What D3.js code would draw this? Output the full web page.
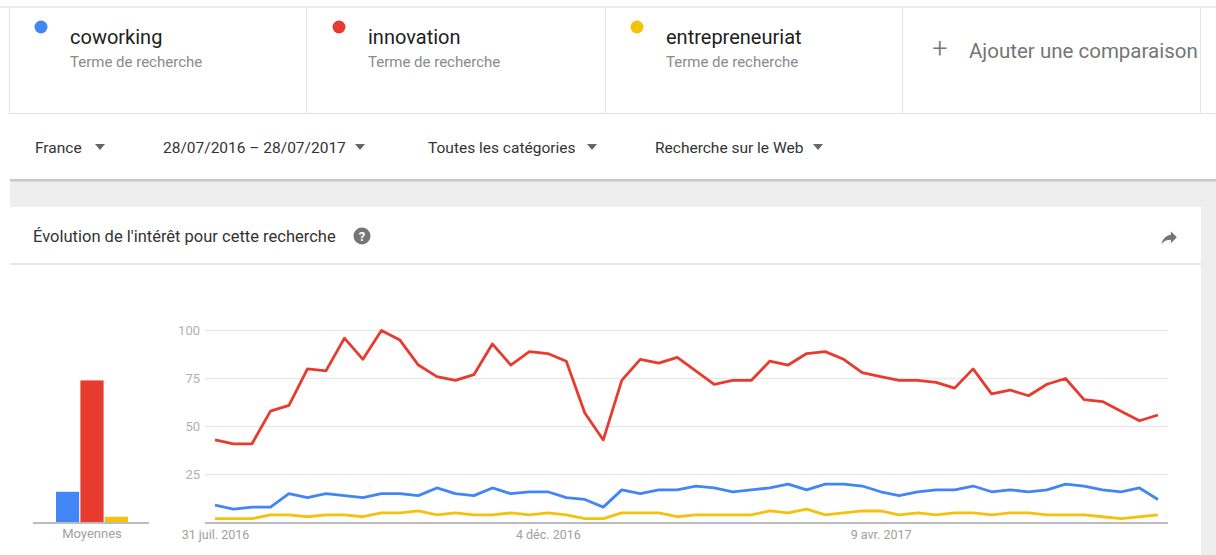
<!DOCTYPE html>
<html lang="fr">
<head>
<meta charset="utf-8">
<title>Évolution de l'intérêt pour cette recherche</title>
<script src="https://d3js.org/d3.v7.min.js"></script>
<style>
  body { margin: 0; background: #fff; font-family: Roboto, "Noto Sans", sans-serif; }
  svg { display: block; }
</style>
</head>
<body>
<div id="chart"></div>
<script>
// search terms and their colours
var terms = ["coworking", "innovation", "entrepreneuriat"];
var colors = ["#4285f4", "#e63b2e", "#f4c20d"];
var subtitle = "Terme de recherche";

var filters = ["France", "28/07/2016 \u2013 28/07/2017", "Toutes les catégories", "Recherche sur le Web"];

// weekly values, first week starts 31 juil. 2016
var coworking = [9,7,8,8,15,13,15,14,13,15,15,14,18,15,14,18,15,16,16,13,12,8,17,15,17,17,
                 19,18,16,17,18,20,17,20,20,19,16,14,16,17,17,19,16,17,16,17,20,19,17,16,18,12];
var innovation = [43,41,41,58,61,80,79,96,85,100,95,82,76,74,77,93,82,89,88,84,57,43,74,85,83,86,
                  79,72,74,74,84,82,88,89,85,78,76,74,74,73,70,80,67,69,66,72,75,64,63,58,53,56];
var entrepreneuriat = [2,2,2,4,4,3,4,4,3,5,5,6,4,5,4,4,5,4,5,4,2,2,5,5,5,3,
                       4,4,4,4,6,5,7,4,5,6,6,4,5,4,5,5,4,5,5,4,4,4,3,2,3,4];
var averages = [16, 74, 3];

var yTicks = [25, 50, 75, 100];
var xTickDates = ["2016-07-31", "2016-12-04", "2017-04-09"];
var xTickLabels = ["31 juil. 2016", "4 déc. 2016", "9 avr. 2017"];

var W = 1216, H = 555;
var svg = d3.select("#chart").append("svg").attr("width", W).attr("height", H);

// ---- page background bits
svg.append("rect").attr("x", 10).attr("y", 181).attr("width", W - 10).attr("height", 27).attr("fill", "#eeeeee");
svg.append("rect").attr("x", 1201).attr("y", 181).attr("width", 15).attr("height", H - 181).attr("fill", "#eeeeee");

// ---- term cards
svg.append("rect").attr("x", 9.5).attr("y", 7.5).attr("width", W).attr("height", 106)
   .attr("fill", "#fff").attr("stroke", "#e3e3e3");
svg.append("line").attr("x1", 0).attr("x2", W).attr("y1", 7).attr("y2", 7).attr("stroke", "#ececec").attr("stroke-width", 2);
var dividers = [306, 605, 902, 1200];
dividers.forEach(function(x) {
  svg.append("line").attr("x1", x + 0.5).attr("x2", x + 0.5).attr("y1", 8).attr("y2", 113).attr("stroke", "#e3e3e3");
});

var cardX = [10, 308, 606];
var cards = svg.selectAll(".card").data(terms).enter().append("g")
  .attr("class", "card")
  .attr("transform", function(d, i) { return "translate(" + cardX[i] + ",0)"; });
cards.append("circle").attr("cx", 31).attr("cy", 27).attr("r", 6.5)
  .attr("fill", function(d, i) { return colors[i]; });
cards.append("text").attr("x", 60).attr("y", 44).text(function(d) { return d; })
  .attr("font-size", "20px").attr("fill", "#212121");
cards.append("text").attr("x", 60).attr("y", 67).text(subtitle)
  .attr("font-size", "15px").attr("fill", "#8a8a8a");

svg.append("text").attr("x", 940).attr("y", 58).attr("text-anchor", "middle").text("+")
  .attr("font-size", "27px").attr("font-weight", 300).attr("fill", "#757575");
svg.append("text").attr("x", 969).attr("y", 58).text("Ajouter une comparaison")
  .attr("font-size", "20.5px").attr("fill", "#757575");

// ---- filter bar
svg.append("rect").attr("x", 10).attr("y", 179).attr("width", W - 10).attr("height", 2.5).attr("fill", "#c8c8c8");
var filterX = [35, 163, 428, 655];
var arrowX = [100, 360, 592, 818];
filters.forEach(function(f, i) {
  svg.append("text").attr("x", filterX[i]).attr("y", 153).text(f)
    .attr("font-size", "15.5px").attr("fill", "#333");
  svg.append("path")
    .attr("d", "M" + (arrowX[i] - 5) + ",144 L" + (arrowX[i] + 5) + ",144 L" + arrowX[i] + ",150 Z")
    .attr("fill", "#666");
});

// ---- chart card
svg.append("rect").attr("x", 10).attr("y", 207).attr("width", 1191).attr("height", H - 207).attr("fill", "#fff");
svg.append("line").attr("x1", 10).attr("x2", 1201).attr("y1", 264).attr("y2", 264).attr("stroke", "#e8e8e8").attr("stroke-width", 2);
svg.append("text").attr("x", 33).attr("y", 242).text("Évolution de l'intérêt pour cette recherche")
  .attr("font-size", "16.5px").attr("fill", "#333");
svg.append("circle").attr("cx", 362).attr("cy", 236).attr("r", 8.5).attr("fill", "#757575");
svg.append("text").attr("x", 362).attr("y", 241).attr("text-anchor", "middle").text("?")
  .attr("font-size", "13px").attr("font-weight", "bold").attr("fill", "#fff");
svg.append("path")
  .attr("d", "M14 9V5l7 7-7 7v-4.1c-5 0-8.5 1.6-11 5.1 1-5 4-10 11-11z")
  .attr("transform", "translate(1159,227) scale(0.85)")
  .attr("fill", "#757575");

// ---- scales
var parse = d3.timeParse("%Y-%m-%d");
var start = parse("2016-07-31");
var dates = innovation.map(function(d, i) { return d3.timeWeek.offset(start, i); });

var x = d3.scaleTime().domain([dates[0], dates[dates.length - 1]]).range([215, 1158]);
var y = d3.scaleLinear().domain([0, 100]).range([522.5, 330.5]);

// gridlines + y labels
svg.append("g").selectAll("line").data(yTicks).enter().append("line")
  .attr("x1", 205).attr("x2", 1168)
  .attr("y1", function(d) { return y(d); }).attr("y2", function(d) { return y(d); })
  .attr("stroke", "#e8e8e8").attr("stroke-width", 1.5);

var yAxis = svg.append("g").attr("transform", "translate(200,0)")
  .call(d3.axisLeft(y).tickValues(yTicks).tickSize(0).tickPadding(0));
yAxis.select(".domain").remove();
yAxis.selectAll("text").attr("font-size", "13px").attr("fill", "#b0b0b0")
  .attr("font-family", "Roboto, sans-serif");

svg.append("line").attr("x1", 205).attr("x2", 1168).attr("y1", 523).attr("y2", 523)
  .attr("stroke", "#bdbdbd").attr("stroke-width", 2);

var xAxis = svg.append("g").attr("transform", "translate(0,527)")
  .call(d3.axisBottom(x).tickValues(xTickDates.map(parse)).tickSize(0)
    .tickFormat(function(d, i) { return xTickLabels[i]; }));
xAxis.select(".domain").remove();
xAxis.selectAll("text").attr("font-size", "12.5px").attr("fill", "#a0a0a0")
  .attr("font-family", "Roboto, sans-serif");

// ---- lines
var series = [coworking, innovation, entrepreneuriat];
var line = d3.line()
  .x(function(d, i) { return x(dates[i]); })
  .y(function(d) { return y(d); });

[2, 0, 1].forEach(function(k) {
  svg.append("path").datum(series[k])
    .attr("d", line)
    .attr("fill", "none")
    .attr("stroke", colors[k])
    .attr("stroke-width", 2.8)
    .attr("stroke-linejoin", "round");
});

// ---- averages bar chart
var xb = d3.scaleBand().domain(terms).range([56, 128]).paddingInner(0.05);
svg.selectAll(".avg").data(averages).enter().append("rect")
  .attr("class", "avg")
  .attr("x", function(d, i) { return xb(terms[i]); })
  .attr("y", function(d) { return y(d); })
  .attr("width", xb.bandwidth())
  .attr("height", function(d) { return y(0) - y(d); })
  .attr("fill", function(d, i) { return colors[i]; });
svg.append("line").attr("x1", 33).attr("x2", 149).attr("y1", 523).attr("y2", 523)
  .attr("stroke", "#bdbdbd").attr("stroke-width", 2);
svg.append("text").attr("x", 92).attr("y", 538).attr("text-anchor", "middle").text("Moyennes")
  .attr("font-size", "13px").attr("fill", "#a0a0a0");
</script>
</body>
</html>
